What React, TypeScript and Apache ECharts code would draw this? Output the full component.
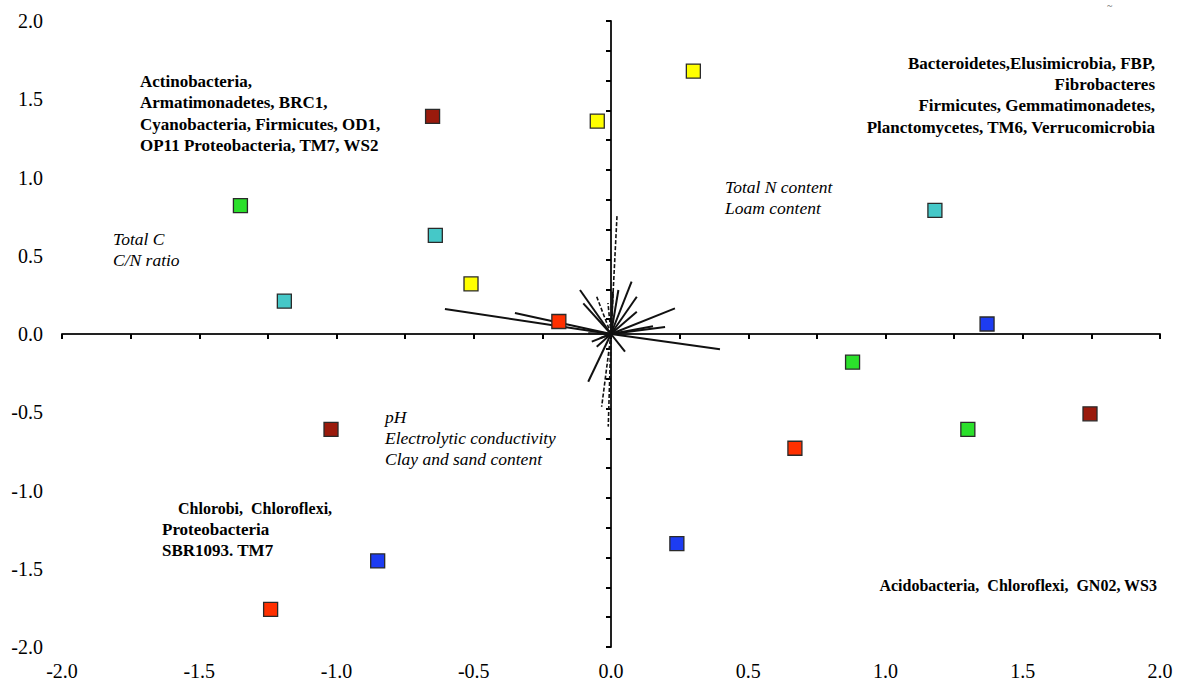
import React, { useEffect, useRef } from "react";
import * as echarts from "echarts";

// Sample scores (x = axis 1, y = axis 2), grouped by marker colour
const yellowPts = [[0.30, 1.68], [-0.05, 1.36], [-0.51, 0.32]];
const darkRedPts = [[-0.65, 1.39], [-1.02, -0.61], [1.745, -0.51]];
const greenPts = [[-1.35, 0.82], [0.88, -0.18], [1.30, -0.61]];
const cyanPts = [[-0.64, 0.63], [-1.19, 0.21], [1.18, 0.79]];
const bluePts = [[1.37, 0.064], [0.24, -1.34], [-0.85, -1.45]];
const redPts = [[-0.19, 0.08], [0.67, -0.73], [-1.24, -1.76]];

// Biplot vector end points (from the origin)
const solidVectors = [
  [-0.605, 0.16], [-0.35, 0.134], [0.397, -0.098], [0.233, 0.164], [0.197, 0.045],
  [0.153, 0.05], [0.075, 0.335], [0.094, 0.238], [0.094, 0.142], [0.027, 0.281],
  [-0.113, 0.281], [-0.101, 0.196], [-0.083, -0.305], [0.051, -0.113], [-0.07, -0.049],
  [-0.052, -0.081], [-0.083, 0.004], [0.007, 0.27], [-0.04, -0.026],
];
const dashedVectors = [
  [0.022, 0.76], [-0.052, 0.238], [-0.011, 0.198], [-0.034, -0.465], [-0.01, -0.592],
];

// Axis settings
const axisMin = -2;
const axisMax = 2;
const labelStep = 0.5;
const xTickStep = 0.25;
const yTickMin = -1.05;
const yTickMax = 1.05;
const yTickStep = 0.1;

// Annotations
const topLeftText = [
  "Actinobacteria,",
  "Armatimonadetes, BRC1,",
  "Cyanobacteria, Firmicutes, OD1,",
  "OP11 Proteobacteria, TM7, WS2",
];
const topRightText = [
  "Bacteroidetes,Elusimicrobia, FBP,",
  "Fibrobacteres",
  "Firmicutes, Gemmatimonadetes,",
  "Planctomycetes, TM6, Verrucomicrobia",
];
const bottomLeftFirst = "Chlorobi,  Chloroflexi,";
const bottomLeftRest = ["Proteobacteria", "SBR1093. TM7"];
const bottomRightText = "Acidobacteria,  Chloroflexi,  GN02, WS3";
const envNText = ["Total N content", "Loam content"];
const envCText = ["Total C", "C/N ratio"];
const envPhText = ["pH", "Electrolytic conductivity", "Clay and sand content"];

const FONT = "'Liberation Serif', 'Times New Roman', serif";

export default function App() {
  const ref = useRef<HTMLDivElement>(null);
  useEffect(() => {
    if (!ref.current) return;
    const chart = echarts.init(ref.current, null, { renderer: "svg" });
    const sq = (name: string, data: number[][], color: string) => ({
      name,
      type: "scatter",
      data,
      symbol: "rect",
      symbolSize: 14,
      z: 5,
      itemStyle: { color, borderColor: "#2a2a2a", borderWidth: 1.3, opacity: 1 },
    });
    const boldStyle = {
      fill: "#000",
      font: `bold 17px ${FONT}`,
      lineHeight: 21.3,
      verticalAlign: "top",
    };
    const boldSmall = { ...boldStyle, font: `bold 16px ${FONT}` };
    const italicStyle = {
      fill: "#000",
      font: `italic 17.5px ${FONT}`,
      lineHeight: 20.8,
      verticalAlign: "top",
    };
    chart.setOption({
      animation: false,
      backgroundColor: "#fff",
      grid: { left: 62, right: 34, top: 21, bottom: 37 },
      xAxis: [
        {
          type: "value", min: axisMin, max: axisMax, interval: labelStep, position: "bottom",
          axisLine: { show: false, onZero: false }, axisTick: { show: false }, splitLine: { show: false },
          axisLabel: { formatter: (v: number) => v.toFixed(1), fontSize: 20, color: "#000", fontFamily: FONT, margin: 14 },
        },
        {
          type: "value", min: axisMin, max: axisMax, interval: xTickStep, position: "bottom",
          axisLine: { show: true, onZero: true, onZeroAxisIndex: 0, lineStyle: { color: "#222", width: 2 } },
          axisTick: { show: true, length: 5, lineStyle: { color: "#000", width: 2 } },
          axisLabel: { show: false }, splitLine: { show: false },
        },
      ],
      yAxis: [
        {
          type: "value", min: axisMin, max: axisMax, interval: labelStep, position: "left",
          axisLine: { show: false, onZero: false }, axisTick: { show: false }, splitLine: { show: false },
          axisLabel: { formatter: (v: number) => v.toFixed(1), fontSize: 20, color: "#000", fontFamily: FONT, margin: 19 },
        },
        {
          type: "value", min: yTickMin, max: yTickMax, interval: yTickStep, position: "left",
          axisLine: { show: true, onZero: true, onZeroAxisIndex: 0, lineStyle: { color: "#222", width: 2 } },
          axisTick: { show: true, length: 5, lineStyle: { color: "#000", width: 2 } },
          axisLabel: { show: false }, splitLine: { show: false },
        },
      ],
      series: [
        {
          type: "lines", coordinateSystem: "cartesian2d", silent: true, z: 3,
          data: solidVectors.map(([x, y]) => ({ coords: [[0, 0], [x, y]] })),
          lineStyle: { color: "#111", width: 2, opacity: 1, curveness: 0 },
        },
        {
          type: "lines", coordinateSystem: "cartesian2d", silent: true, z: 3,
          data: dashedVectors.map(([x, y]) => ({ coords: [[0, 0], [x, y]] })),
          lineStyle: { color: "#111", width: 1.6, type: [4, 2], opacity: 1, curveness: 0 },
        },
        sq("yellow", yellowPts, "#ffff00"),
        sq("darkred", darkRedPts, "#9a1a0c"),
        sq("green", greenPts, "#2be02b"),
        sq("cyan", cyanPts, "#45c8c8"),
        sq("blue", bluePts, "#1d3cf2"),
        sq("red", redPts, "#ff3000"),
      ],
      graphic: [
        { type: "text", x: 140, y: 71, style: { ...boldStyle, text: topLeftText.join("\n") } },
        { type: "text", x: 1155, y: 52.5, style: { ...boldStyle, text: topRightText.join("\n"), align: "right" } },
        { type: "text", x: 178, y: 498, style: { ...boldSmall, text: bottomLeftFirst } },
        { type: "text", x: 162, y: 518.5, style: { ...boldStyle, text: bottomLeftRest.join("\n") } },
        { type: "text", x: 1157, y: 575, style: { ...boldSmall, text: bottomRightText, align: "right" } },
        { type: "text", x: 725, y: 176.5, style: { ...italicStyle, text: envNText.join("\n") } },
        { type: "text", x: 113, y: 228.5, style: { ...italicStyle, text: envCText.join("\n") } },
        { type: "text", x: 385, y: 406.5, style: { ...italicStyle, text: envPhText.join("\n") } },
        { type: "text", x: 1107, y: 0, style: { text: "~", fill: "#555", font: `10px ${FONT}` } },
      ],
    });
    return () => chart.dispose();
  }, []);
  return (
    <div
      ref={ref}
      style={{ position: "fixed", left: 0, top: 0, width: 1194, height: 684, background: "#fff" }}
    />
  );
}
